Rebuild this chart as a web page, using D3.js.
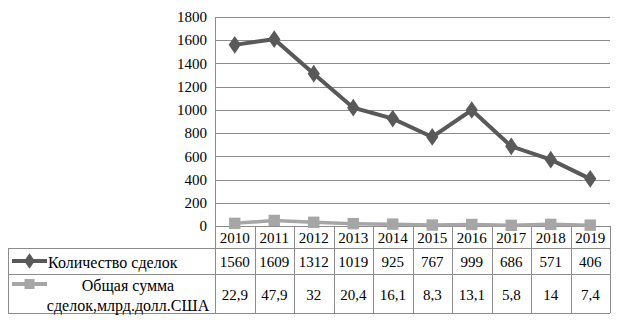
<!DOCTYPE html>
<html>
<head>
<meta charset="utf-8">
<script src="https://cdn.jsdelivr.net/npm/d3@7"></script>
<style>
body { margin: 0; background: #fff; }
</style>
</head>
<body>
<div id="chart"></div>
<script>
var years = ["2010", "2011", "2012", "2013", "2014", "2015", "2016", "2017", "2018", "2019"];
var dealCount = [1560, 1609, 1312, 1019, 925, 767, 999, 686, 571, 406];
var dealSum = [22.9, 47.9, 32, 20.4, 16.1, 8.3, 13.1, 5.8, 14, 7.4];
var dealSumLabels = ["22,9", "47,9", "32", "20,4", "16,1", "8,3", "13,1", "5,8", "14", "7,4"];
var yTicks = [0, 200, 400, 600, 800, 1000, 1200, 1400, 1600, 1800];
var countName = "Количество сделок";
var sumName = ["Общая сумма", "сделок,млрд.долл.США"];

var width = 624, height = 327;
var plotLeft = 215, plotRight = 610, plotTop = 17, plotBottom = 226;
var tableLeft = 8;
var rowY = [226, 248, 274, 313];
var font = "'Liberation Serif', 'Times New Roman', Times, serif";

var svg = d3.select("#chart").append("svg")
    .attr("width", width)
    .attr("height", height)
    .attr("font-family", font)
    .attr("font-size", 15);

var x = d3.scaleBand()
    .domain(years)
    .range([plotLeft, plotRight]);

var y = d3.scaleLinear()
    .domain([0, 1800])
    .range([plotBottom, plotTop]);

// gridlines
svg.selectAll("line.grid")
    .data(yTicks)
    .enter()
    .append("line")
    .attr("x1", plotLeft)
    .attr("x2", plotRight)
    .attr("y1", function (d) { return Math.round(y(d)) + 0.5 })
    .attr("y2", function (d) { return Math.round(y(d)) + 0.5 })
    .attr("stroke", "#8c8c8c")
    .attr("stroke-width", 1);

svg.append("line")
    .attr("x1", plotLeft + 0.5).attr("x2", plotLeft + 0.5)
    .attr("y1", plotTop).attr("y2", plotBottom)
    .attr("stroke", "#8c8c8c");

// y tick labels
svg.selectAll("text.ytick")
    .data(yTicks)
    .enter()
    .append("text")
    .attr("x", plotLeft - 8)
    .attr("y", function (d) { return y(d) })
    .attr("dy", "0.35em")
    .attr("text-anchor", "end")
    .text(function (d) { return d });

// table grid
var tg = svg.append("g").attr("stroke", "#8c8c8c").attr("fill", "none");
tg.append("line").attr("x1", plotLeft).attr("x2", plotRight).attr("y1", rowY[0] + 0.5).attr("y2", rowY[0] + 0.5);
[1, 2, 3].forEach(function (i) {
    tg.append("line").attr("x1", tableLeft).attr("x2", plotRight)
        .attr("y1", rowY[i] + 0.5).attr("y2", rowY[i] + 0.5);
});
tg.append("line").attr("x1", tableLeft + 0.5).attr("x2", tableLeft + 0.5).attr("y1", rowY[1]).attr("y2", rowY[3]);
years.concat(["end"]).forEach(function (d, i) {
    var xx = Math.round(plotLeft + i * x.bandwidth()) + 0.5;
    tg.append("line").attr("x1", xx).attr("x2", xx).attr("y1", rowY[0]).attr("y2", rowY[3]);
});

// table texts
function cellText(values, yy) {
    svg.selectAll(null)
        .data(values)
        .enter()
        .append("text")
        .attr("x", function (d, i) { return x(years[i]) + x.bandwidth() / 2 })
        .attr("y", yy)
        .attr("dy", "0.35em")
        .attr("text-anchor", "middle")
        .text(function (d) { return d });
}
cellText(years, (rowY[0] + rowY[1]) / 2 + 1);
cellText(dealCount, (rowY[1] + rowY[2]) / 2 + 1);
cellText(dealSumLabels, (rowY[2] + rowY[3]) / 2 + 1);

// legend keys in table
var square = d3.symbol().type(d3.symbolSquare).size(130);
var diamond = d3.symbol().type(d3.symbolDiamond).size(70);

var ly1 = (rowY[1] + rowY[2]) / 2;
svg.append("line").attr("x1", 12).attr("x2", 47).attr("y1", ly1).attr("y2", ly1)
    .attr("stroke", "#595959").attr("stroke-width", 4);
svg.append("path").attr("d", diamond).attr("transform", "translate(29.5," + ly1 + ") scale(1.2,1)")
    .attr("fill", "#595959");
svg.append("text").attr("x", 48).attr("y", ly1 + 1).attr("dy", "0.35em")
    .attr("font-size", 16).text(countName);

var ly2 = rowY[2] + 10;
svg.append("line").attr("x1", 12).attr("x2", 47).attr("y1", ly2).attr("y2", ly2)
    .attr("stroke", "#a6a6a6").attr("stroke-width", 4);
svg.append("path").attr("d", d3.symbol().type(d3.symbolSquare).size(100)).attr("transform", "translate(29.5," + ly2 + ")")
    .attr("fill", "#a6a6a6");
svg.selectAll(null)
    .data(sumName)
    .enter()
    .append("text")
    .attr("x", 128)
    .attr("y", function (d, i) { return rowY[2] + 11 + i * 20 })
    .attr("dy", "0.35em")
    .attr("text-anchor", "middle")
    .attr("font-size", 16)
    .text(function (d) { return d });

// series lines
var cx = function (d, i) { return x(years[i]) + x.bandwidth() / 2 };

svg.append("path")
    .datum(dealSum)
    .attr("fill", "none")
    .attr("stroke", "#a6a6a6")
    .attr("stroke-width", 3.5)
    .attr("d", d3.line().x(cx).y(function (d) { return y(d) }));

svg.selectAll("path.sq")
    .data(dealSum)
    .enter()
    .append("path")
    .attr("d", square)
    .attr("transform", function (d, i) { return "translate(" + cx(d, i) + "," + y(d) + ")" })
    .attr("fill", "#a6a6a6");

svg.append("path")
    .datum(dealCount)
    .attr("fill", "none")
    .attr("stroke", "#595959")
    .attr("stroke-width", 4)
    .attr("d", d3.line().x(cx).y(function (d) { return y(d) }));

svg.selectAll("path.dm")
    .data(dealCount)
    .enter()
    .append("path")
    .attr("d", d3.symbol().type(d3.symbolDiamond).size(90))
    .attr("transform", function (d, i) { return "translate(" + cx(d, i) + "," + y(d) + ") scale(1.2,1)" })
    .attr("fill", "#595959");
</script>
</body>
</html>
